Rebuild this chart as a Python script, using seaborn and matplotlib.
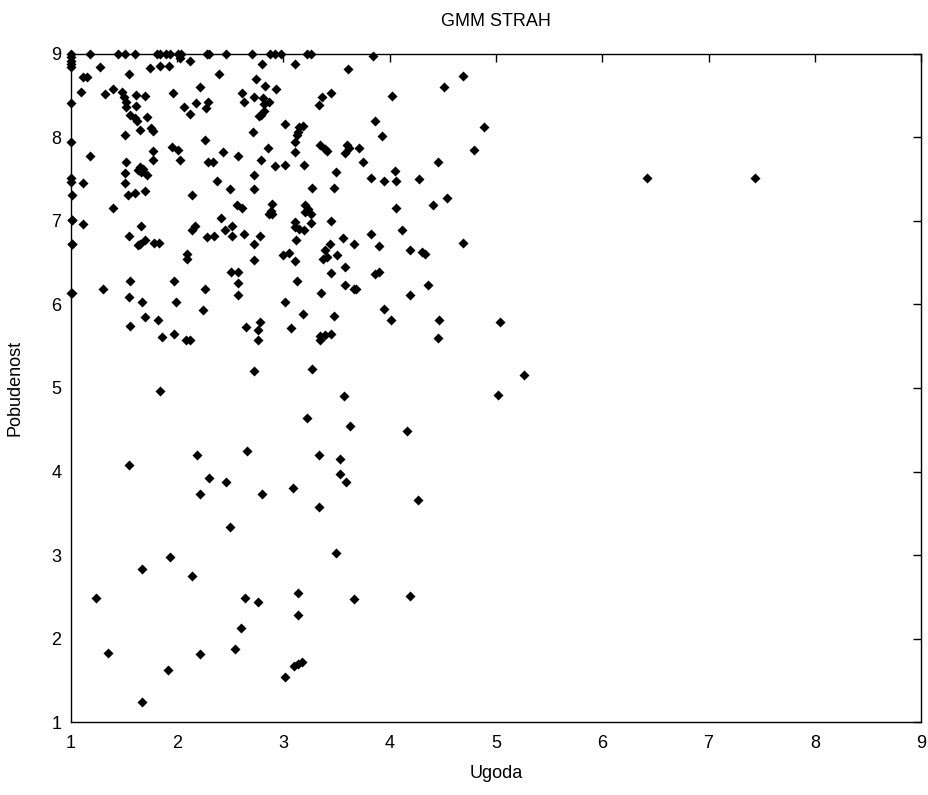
import matplotlib
matplotlib.use("Agg")
import matplotlib.pyplot as plt
import seaborn as sns
import pandas as pd

# Ugoda (valence) / Pobudenost (arousal) ratings for the STRAH cluster
ugoda = [
    1.00, 1.00, 1.00, 1.00, 1.00, 1.00, 1.00, 1.00, 1.00, 1.01, 1.01, 1.01, 1.00,
    1.18, 1.44, 1.51, 1.60, 1.81, 1.84, 1.89, 1.93, 2.01, 2.04, 2.28,
    2.30, 2.46, 2.70, 2.87, 2.92, 2.98, 3.22, 3.26, 3.84,
    1.27, 1.55, 1.74, 1.84, 1.92, 2.12, 2.03, 1.11, 1.15, 1.09, 1.32, 1.40,
    1.48, 1.50, 1.52, 1.52, 1.61, 1.70, 1.61, 1.96, 2.21, 2.06, 2.12, 2.18,
    2.27, 1.60, 1.56, 1.72, 1.62, 1.65, 1.75, 1.77, 1.51, 2.26, 1.18, 1.52,
    1.77, 1.77, 1.95, 2.01, 2.03, 2.29, 1.51, 1.51, 1.65, 1.63, 1.66, 1.68,
    1.72, 1.54, 1.60, 1.70, 1.11, 2.14, 1.40,
    2.39, 2.80, 3.11, 3.61, 2.74, 2.83, 2.93, 2.61, 2.63, 2.72, 2.81, 2.86,
    2.82, 2.29, 3.45, 3.36, 3.33, 2.79, 2.77, 2.82, 3.01, 3.15, 3.18, 3.14,
    3.13, 3.11, 2.71, 2.85, 2.43, 2.57, 2.34, 2.79, 3.11, 3.34, 3.39, 3.41,
    3.60, 3.58, 2.92, 3.01, 3.19, 3.49, 2.72, 2.37, 2.50, 2.72, 3.27, 3.48,
    2.56, 2.61, 2.89, 2.88, 3.20, 3.23,
    4.69, 4.51, 4.02, 3.86, 4.89, 3.93, 3.62, 3.71, 3.75, 4.45, 4.79, 3.82,
    3.95, 4.05, 4.06, 4.28, 4.54, 4.41, 4.06,
    1.01, 1.11, 1.01, 1.01, 1.55, 1.66, 1.65, 1.63, 1.70, 1.78, 1.83, 2.17,
    2.14, 2.09, 2.09, 2.28, 1.30, 1.56, 1.55, 1.67, 1.97, 1.99, 2.26, 2.24,
    1.70, 1.82, 1.56, 1.86, 1.97, 2.08, 2.12,
    2.41, 2.86, 2.89, 3.20, 3.26, 3.26, 3.11, 3.11, 3.15, 3.19, 3.45, 3.56,
    3.66, 2.45, 2.52, 2.52, 2.35, 2.63, 2.78, 2.72, 2.72, 3.12, 3.00, 3.05,
    3.11, 3.39, 3.44, 3.37, 3.41, 3.50, 3.45, 3.58, 3.58, 3.66, 2.51, 2.57,
    2.57, 2.57, 3.13, 3.35, 3.01, 3.18, 3.48, 2.65, 2.78, 2.76, 2.76, 3.07,
    3.34, 3.39, 3.45, 3.34, 2.72, 3.27,
    3.82, 4.12, 3.90, 4.19, 4.30, 4.33, 4.69, 3.86, 3.90, 3.68, 4.19, 4.36,
    3.95, 4.01, 4.46, 4.45, 5.04, 5.26,
    1.84, 1.55, 2.19, 2.21, 2.30,
    3.57, 3.22, 3.63, 2.66, 3.33, 3.53, 3.53, 3.59, 2.46, 2.80, 3.09, 3.33,
    2.50, 5.02, 4.16, 4.27,
    1.24, 1.67, 1.93, 2.14, 1.35, 2.21, 1.91, 1.67,
    3.49, 2.64, 2.76, 3.14, 3.14, 3.66, 2.60, 2.54, 3.10, 3.14, 3.17, 3.01,
    4.19, 6.42, 7.44,
]
pobudenost = [
    9.00, 8.96, 8.92, 8.88, 8.84, 8.41, 7.95, 7.51, 7.47, 7.31, 7.01, 6.73, 6.14,
    9.00, 9.00, 9.00, 9.00, 9.00, 9.00, 9.00, 9.00, 9.00, 9.00, 9.00,
    9.00, 9.00, 9.00, 9.00, 9.00, 9.00, 9.00, 9.00, 8.97,
    8.85, 8.76, 8.83, 8.86, 8.86, 8.92, 8.95, 8.73, 8.73, 8.55, 8.52, 8.58,
    8.54, 8.48, 8.43, 8.37, 8.51, 8.50, 8.38, 8.53, 8.60, 8.37, 8.28, 8.41,
    8.35, 8.23, 8.27, 8.25, 8.20, 8.09, 8.11, 8.08, 8.03, 7.97, 7.78, 7.71,
    7.84, 7.73, 7.89, 7.85, 7.73, 7.71, 7.57, 7.45, 7.65, 7.61, 7.59, 7.62,
    7.55, 7.31, 7.34, 7.36, 7.46, 7.31, 7.16,
    8.76, 8.88, 8.88, 8.82, 8.70, 8.62, 8.58, 8.53, 8.43, 8.49, 8.47, 8.43,
    8.40, 8.43, 8.53, 8.49, 8.39, 8.27, 8.26, 8.32, 8.16, 8.13, 8.14, 8.07,
    8.03, 7.95, 8.06, 7.88, 7.83, 7.78, 7.71, 7.73, 7.83, 7.91, 7.86, 7.84,
    7.91, 7.82, 7.66, 7.67, 7.67, 7.59, 7.55, 7.48, 7.38, 7.38, 7.40, 7.40,
    7.19, 7.15, 7.20, 7.12, 7.19, 7.14,
    8.74, 8.60, 8.50, 8.20, 8.13, 8.02, 7.88, 7.87, 7.71, 7.71, 7.85, 7.52,
    7.48, 7.60, 7.48, 7.50, 7.28, 7.19, 7.15,
    7.01, 6.96, 6.73, 6.14, 6.82, 6.94, 6.73, 6.71, 6.77, 6.74, 6.74, 6.94,
    6.89, 6.61, 6.55, 6.81, 6.19, 6.28, 6.09, 6.03, 6.28, 6.03, 6.19, 5.93,
    5.85, 5.81, 5.74, 5.61, 5.65, 5.57, 5.57,
    7.03, 7.08, 7.08, 7.11, 7.08, 6.98, 6.99, 6.93, 6.91, 6.89, 7.00, 6.80,
    6.73, 6.89, 6.94, 6.82, 6.82, 6.84, 6.82, 6.72, 6.53, 6.77, 6.59, 6.62,
    6.52, 6.65, 6.73, 6.55, 6.57, 6.59, 6.38, 6.45, 6.23, 6.19, 6.39, 6.39,
    6.26, 6.11, 6.28, 6.14, 6.03, 5.89, 5.86, 5.73, 5.79, 5.70, 5.58, 5.72,
    5.62, 5.64, 5.65, 5.57, 5.20, 5.23,
    6.85, 6.89, 6.70, 6.65, 6.63, 6.60, 6.74, 6.37, 6.39, 6.19, 6.11, 6.23,
    5.95, 5.81, 5.81, 5.60, 5.79, 5.16,
    4.96, 4.08, 4.20, 3.73, 3.92,
    4.90, 4.64, 4.55, 4.25, 4.20, 4.15, 3.97, 3.87, 3.87, 3.73, 3.80, 3.57,
    3.33, 4.92, 4.48, 3.66,
    2.49, 2.83, 2.98, 2.75, 1.83, 1.81, 1.62, 1.24,
    3.03, 2.49, 2.44, 2.54, 2.28, 2.47, 2.13, 1.88, 1.67, 1.70, 1.72, 1.54,
    2.51, 7.51, 7.51,
]

ticks = [1, 2, 3, 4, 5, 6, 7, 8, 9]

df = pd.DataFrame({"Ugoda": ugoda, "Pobudenost": pobudenost})

sns.set_style("white")
plt.rcParams["font.family"] = ["Liberation Sans", "DejaVu Sans"]
plt.rcParams["text.color"] = "black"
plt.rcParams["axes.labelcolor"] = "black"

fig = plt.figure(figsize=(9.29, 7.95), dpi=100)
ax = fig.add_axes([0.0764, 0.0918, 0.9150, 0.8403])

sns.scatterplot(data=df, x="Ugoda", y="Pobudenost", marker="D", color="black",
                s=26, linewidth=0, ax=ax, clip_on=False, zorder=3)

ax.set_xlim(1, 9)
ax.set_ylim(1, 9)
ax.set_xticks(ticks)
ax.set_yticks(ticks)
ax.set_xticklabels([str(t) for t in ticks], fontsize=13)
ax.set_yticklabels([str(t) for t in ticks], fontsize=13)
ax.tick_params(direction="in", length=6, width=1, top=True, right=True,
               colors="black")
ax.tick_params(axis="x", pad=9)
ax.tick_params(axis="y", pad=7)
for side in ax.spines.values():
    side.set_color("black")
    side.set_linewidth(1)
ax.set_xlabel("Ugoda", fontsize=13, labelpad=10, color="black")
ax.set_ylabel("Pobudenost", fontsize=13, labelpad=20, color="black")
ax.set_title("GMM STRAH", fontsize=13, pad=20, color="black")

fig.savefig("out.png", dpi=100)
